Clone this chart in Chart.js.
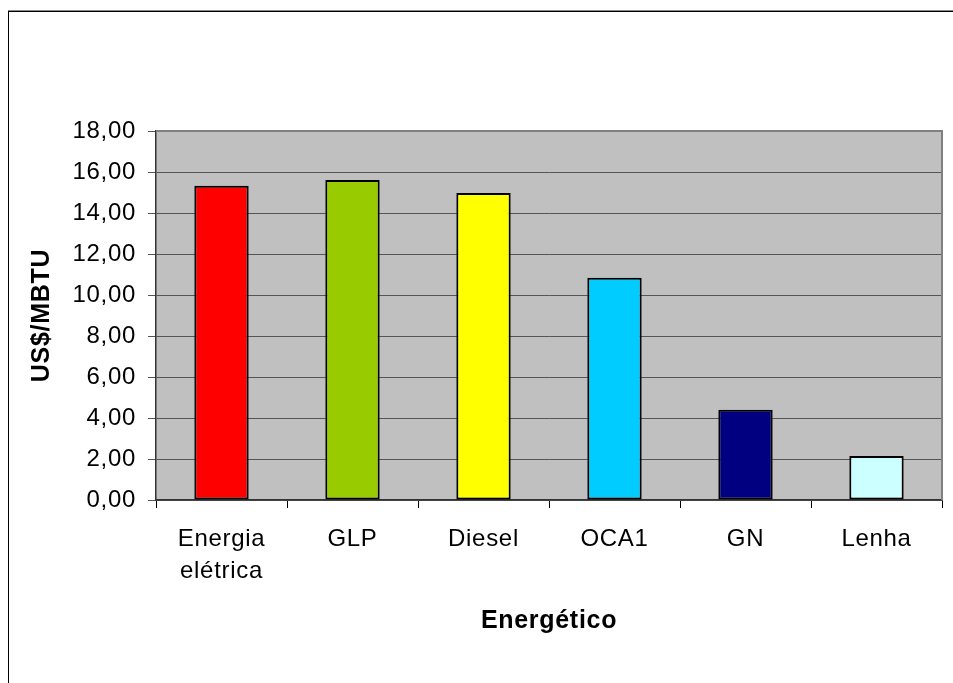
<!DOCTYPE html>
<html lang="pt">
<head>
<meta charset="utf-8">
<title>Custo por energético (US$/MBTU)</title>
<script src="https://cdn.jsdelivr.net/npm/chart.js@4.4.1/dist/chart.umd.min.js"></script>
<style>
  html, body { margin: 0; padding: 0; background: #fff; overflow: hidden; }
  #wrap { position: relative; width: 953px; height: 683px; }
  #frame {
    position: absolute; left: 8px; top: 11px; width: 980px; height: 720px;
    border: 1px solid #000; box-shadow: 0 -1px 0 #888; box-sizing: border-box;
  }
  canvas { position: absolute; left: 0; top: 0; }
</style>
</head>
<body>
<div id="wrap">
  <div id="frame"></div>
  <canvas id="chart" width="953" height="683"></canvas>
</div>
<script>
// Energy sources and their cost in US$/MBTU
const categories = [['Energia', 'elétrica'], 'GLP', 'Diesel', 'OCA1', 'GN', 'Lenha'];
const costs = [15.33, 15.61, 14.98, 10.84, 4.40, 2.15];
const barColors = ['#FF0000', '#99CC00', '#FFFF00', '#00CCFF', '#000080', '#CCFFFF'];
const yTickValues = [0, 2, 4, 6, 8, 10, 12, 14, 16, 18];
const yAxisTitle = 'US$/MBTU';
const xAxisTitle = 'Energético';

const FONT = '"Liberation Sans", Arial, Helvetica, sans-serif';

// Grey plot background, slightly wider lettering, and the plot frame on the top and right edges
const plotFrame = {
  id: 'plotFrame',
  beforeDraw(chart) {
    const { ctx, chartArea: a } = chart;
    ctx.save();
    ctx.fillStyle = '#C0C0C0';
    ctx.fillRect(a.left, a.top, a.right - a.left, a.bottom - a.top);
    ctx.restore();
    ctx.letterSpacing = '0.7px';
  },
  afterDraw(chart) {
    const { ctx, chartArea: a } = chart;
    ctx.save();
    ctx.strokeStyle = '#808080';
    ctx.lineWidth = 2;
    ctx.beginPath();
    ctx.moveTo(a.left, a.top);
    ctx.lineTo(a.right, a.top);
    ctx.lineTo(a.right, a.bottom);
    ctx.stroke();
    ctx.restore();
  }
};

new Chart(document.getElementById('chart'), {
  type: 'bar',
  data: {
    labels: categories,
    datasets: [{
      data: costs,
      backgroundColor: barColors,
      borderColor: '#000',
      borderWidth: 2,
      borderSkipped: false,
      categoryPercentage: 1,
      barPercentage: 0.415
    }]
  },
  plugins: [plotFrame],
  options: {
    responsive: false,
    animation: false,
    devicePixelRatio: 1,
    layout: { padding: { top: 131, right: 11, left: 0, bottom: 0 } },
    plugins: { legend: { display: false }, tooltip: { enabled: false }, title: { display: false } },
    scales: {
      x: {
        afterFit(scale) { scale.height = 183; },
        grid: {
          display: true, drawOnChartArea: false, drawTicks: true,
          tickLength: 8, color: '#000', lineWidth: 1, offset: true
        },
        border: { display: true, color: '#333', width: 1.5 },
        ticks: {
          color: '#000', padding: 15, maxRotation: 0, autoSkip: false,
          font: { family: FONT, size: 24, lineHeight: 1.333 }
        },
        title: {
          display: true, text: xAxisTitle, color: '#000',
          font: { family: FONT, size: 25, weight: 'bold', lineHeight: 1.2 },
          padding: { top: 0, bottom: 47 }
        }
      },
      y: {
        min: 0, max: 18,
        afterFit(scale) { scale.width = 156; },
        afterBuildTicks(scale) { scale.ticks = yTickValues.map(v => ({ value: v })); },
        grid: { color: '#555', lineWidth: 1, tickLength: 8, drawTicks: true },
        border: { display: true, color: '#333', width: 1.5 },
        ticks: {
          color: '#000', padding: 12,
          font: { family: FONT, size: 24 },
          callback: v => v.toFixed(2).replace('.', ',')
        },
        title: {
          display: true, text: yAxisTitle, color: '#000',
          font: { family: FONT, size: 25, weight: 'bold', lineHeight: 1.2 },
          padding: { top: 27, bottom: 0 }
        }
      }
    }
  }
});
</script>
</body>
</html>
